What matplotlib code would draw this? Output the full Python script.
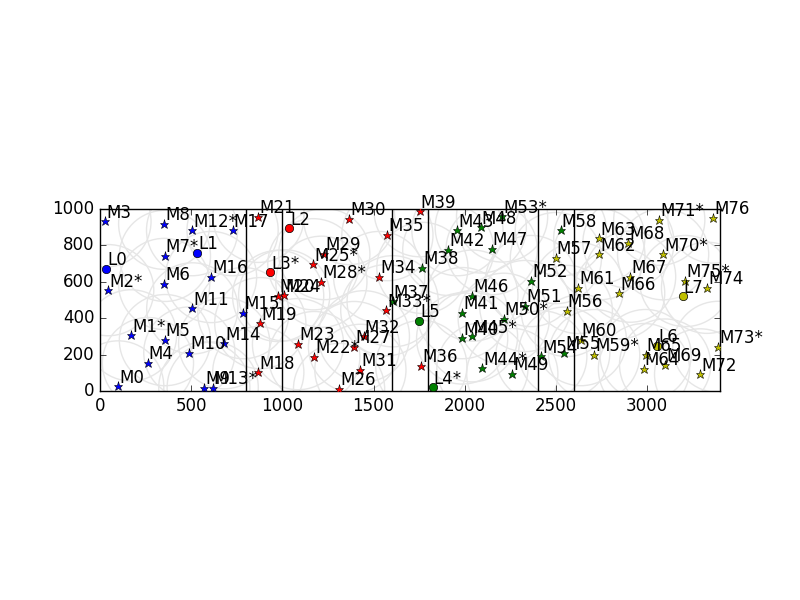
import matplotlib
matplotlib.use("Agg")
import matplotlib.pyplot as plt

plt.style.use("classic")

# node names and positions, per cluster
blue_names = ["M0", "M1*", "M2*", "M3", "M4", "M5", "M6", "M7*", "M8", "M9",
              "M10", "M11", "M12*", "M13*", "M14", "M15", "M16", "M17"]
blue_x = [100, 170, 45, 30, 263, 356, 352, 356, 352, 572, 490, 506, 505, 618, 681, 786, 609, 727]
blue_y = [26, 306, 554, 931, 154, 280, 588, 742, 918, 20, 212, 454, 883, 20, 263, 428, 626, 883]

red_names = ["M18", "M19", "M20", "M21", "M22*", "M23", "M24", "M25*", "M26", "M27",
             "M28*", "M29", "M30", "M31", "M32", "M33*", "M34", "M35", "M36", "M39"]
red_x = [868, 879, 977, 869, 1175, 1086, 1010, 1170, 1311, 1393,
         1214, 1230, 1367, 1428, 1447, 1570, 1531, 1576, 1762, 1753]
red_y = [104, 373, 522, 956, 187, 258, 526, 696, 12, 242,
         600, 752, 944, 117, 301, 444, 626, 856, 138, 987]

green_names = ["M37", "M38", "M40", "M41", "M42", "M43", "M44*", "M45*", "M46", "M47",
               "M48", "M49", "M50*", "M51", "M52", "M53*", "M54", "M55", "M58"]
green_x = [1605, 1768, 1986, 1987, 1910, 1960, 2097, 2040, 2042, 2148,
           2088, 2261, 2214, 2332, 2364, 2205, 2420, 2546, 2527]
green_y = [493, 676, 289, 428, 775, 883, 125, 301, 524, 779,
           898, 94, 397, 467, 604, 958, 191, 211, 882]

yellow_names = ["M56", "M57", "M59*", "M60", "M61", "M62", "M63", "M64", "M65", "M66",
                "M67", "M68", "M69", "M70*", "M71*", "M72", "M73*", "M74", "M75*", "M76"]
yellow_x = [2560, 2500, 2710, 2637, 2622, 2738, 2738, 2983, 2992, 2847,
            2907, 2898, 3099, 3088, 3067, 3291, 3391, 3329, 3209, 3364]
yellow_y = [440, 730, 198, 280, 566, 751, 839, 121, 198, 537,
            628, 815, 146, 751, 940, 92, 243, 567, 604, 952]

L_names = ["L0", "L1", "L2", "L3*", "L4*", "L5", "L6", "L7"]
L_x = [33, 533, 1038, 933, 1824, 1750, 3057, 3196]
L_y = [671, 757, 894, 652, 21, 385, 247, 521]
L_colors = ["b", "b", "r", "r", "g", "g", "y", "y"]

borders = [800, 1000, 1600, 1800, 2400, 2600]
radius = 250

fig = plt.figure(figsize=(8, 6), dpi=100, facecolor="white")
ax = fig.add_subplot(1, 1, 1)

groups = [(blue_names, blue_x, blue_y, "b"), (red_names, red_x, red_y, "r"),
          (green_names, green_x, green_y, "g"), (yellow_names, yellow_x, yellow_y, "y")]

for names, xs, ys, c in groups:
    for x, y in zip(xs, ys):
        ax.add_patch(plt.Circle((x, y), radius, fill=False, color="0.9", lw=1, zorder=1))

for b in borders:
    ax.axvline(b, color="k", lw=1, zorder=2)

for names, xs, ys, c in groups:
    ax.plot(xs, ys, "*", color=c, mec="k", mew=0.4, ms=6.5, zorder=3)
    for n, x, y in zip(names, xs, ys):
        ax.text(x + 5, y + 20, n, fontsize=12, zorder=4)

for n, x, y, c in zip(L_names, L_x, L_y, L_colors):
    ax.plot([x], [y], "o", color=c, mec="k", mew=0.5, ms=6, zorder=3)
    ax.text(x + 5, y + 20, n, fontsize=12, zorder=4)

ax.set_xlim(0, 3400)
ax.set_ylim(0, 1000)
ax.set_aspect("equal")
ax.set_xticks([0, 500, 1000, 1500, 2000, 2500, 3000])
ax.set_yticks([0, 200, 400, 600, 800, 1000])

fig.savefig("out.png", dpi=100, facecolor="white")
